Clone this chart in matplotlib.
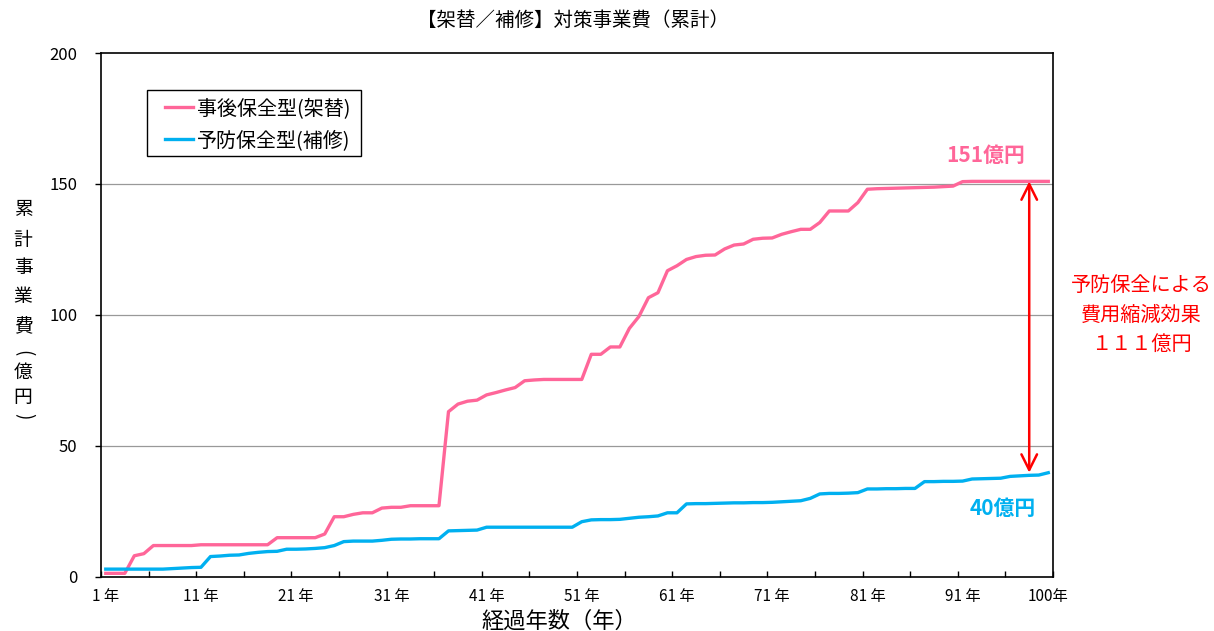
import numpy as np
import matplotlib
matplotlib.use("Agg")
import matplotlib.pyplot as plt
from matplotlib.patches import Rectangle

plt.rcParams['font.family'] = ['Noto Sans CJK JP', 'DejaVu Sans']

# data (億円, 累計)
years = np.arange(1, 101)
jigo = [1.4, 1.4, 1.4, 8.1, 8.9, 12.0, 12.0, 12.0, 12.0, 12.0,
        12.3, 12.3, 12.3, 12.3, 12.3, 12.3, 12.3, 12.3, 15.0, 15.0,
        15.0, 15.0, 15.0, 16.4, 23.0, 23.0, 23.9, 24.5, 24.5, 26.3,
        26.6, 26.6, 27.2, 27.2, 27.2, 27.2, 63.1, 66.0, 67.1, 67.5,
        69.5, 70.4, 71.4, 72.3, 74.9, 75.2, 75.4, 75.4, 75.4, 75.4,
        75.4, 85.0, 85.0, 87.8, 87.8, 94.9, 99.4, 106.6, 108.5, 116.9,
        118.8, 121.2, 122.3, 122.8, 122.9, 125.2, 126.7, 127.1, 128.9, 129.3,
        129.4, 130.8, 131.8, 132.7, 132.7, 135.3, 139.7, 139.7, 139.7, 142.9,
        148.0, 148.2, 148.3, 148.4, 148.5, 148.6, 148.7, 148.8, 149.0, 149.2,
        150.9, 151.0, 151.0, 151.0, 151.0, 151.0, 151.0, 151.0, 151.0, 151.0]
yobou = [3.0, 3.0, 3.0, 3.0, 3.0, 3.0, 3.0, 3.2, 3.4, 3.6,
         3.7, 7.8, 8.0, 8.3, 8.4, 9.0, 9.4, 9.7, 9.8, 10.6,
         10.6, 10.7, 10.9, 11.2, 12.0, 13.5, 13.7, 13.7, 13.7, 14.0,
         14.4, 14.5, 14.5, 14.6, 14.6, 14.6, 17.6, 17.7, 17.8, 17.9,
         19.0, 19.0, 19.0, 19.0, 19.0, 19.0, 19.0, 19.0, 19.0, 19.0,
         21.1, 21.8, 21.9, 21.9, 22.0, 22.4, 22.8, 23.0, 23.3, 24.5,
         24.5, 27.9, 28.0, 28.0, 28.1, 28.2, 28.3, 28.3, 28.4, 28.4,
         28.5, 28.7, 28.9, 29.1, 30.0, 31.7, 31.9, 31.9, 32.0, 32.2,
         33.6, 33.6, 33.7, 33.7, 33.8, 33.8, 36.4, 36.4, 36.5, 36.5,
         36.6, 37.4, 37.5, 37.6, 37.7, 38.4, 38.6, 38.8, 38.9, 39.8]
label_years = [1, 11, 21, 31, 41, 51, 61, 71, 81, 91, 100]
tick_labels = ['1 年', '11 年', '21 年', '31 年', '41 年', '51 年',
               '61 年', '71 年', '81 年', '91 年', '100年']

pink = '#FF6699'
blue = '#00B0F0'

fig = plt.figure(figsize=(12.14, 6.31), dpi=100)
ax = fig.add_axes([0.0832, 0.0856, 0.7842, 0.8304])

ax.plot(years, jigo, color=pink, lw=2.4, label='事後保全型(架替)', zorder=3)
ax.plot(years, yobou, color=blue, lw=2.4, label='予防保全型(補修)', zorder=3)

ax.set_xlim(0.5, 100.5)
ax.set_ylim(0, 200)
ax.set_yticks([0, 50, 100, 150, 200])
ax.set_yticklabels(['0', '50', '100', '150', '200'], fontsize=12)
for v in [50, 100, 150]:
    ax.axhline(v, color='#999999', lw=0.9, zorder=1)

# x ticks: marks between categories, labels on categories
ax.set_xticks(np.arange(0.5, 101, 5))
ax.set_xticklabels([])
ax.set_xticks(label_years, minor=True)
ax.set_xticklabels(tick_labels, minor=True, fontsize=11)
ax.tick_params(axis='x', which='major', direction='in', length=4, width=1)
ax.tick_params(axis='x', which='minor', length=0, pad=8)
ax.tick_params(axis='y', direction='out', length=4, width=1, pad=13)
for s in ax.spines.values():
    s.set_linewidth(1.2)
    s.set_color('black')

fig.text(559 / 1214, 1 - 621 / 631, '経過年数（年）', ha='center', va='center', fontsize=16)
fig.text(573 / 1214, 1 - 20 / 631, '【架替／補修】対策事業費（累計）', ha='center', va='center', fontsize=14)

# vertical y label
ylab = ['累', '計', '事', '業', '費', '(', '億', '円', ')']
ylab_y = [210, 240, 268, 297, 327, 353, 372, 398, 416]
for ch, yy in zip(ylab, ylab_y):
    rot = -90 if ch in '()' else 0
    fig.text(0.019, 1 - yy / 631, ch, ha='center', va='center', fontsize=13.5,
             rotation=rot)

# legend with a wider box than matplotlib's uniform padding gives
leg = ax.legend(loc='upper left', bbox_to_anchor=(0.0585, 0.929), fontsize=14.4,
                frameon=False, handlelength=1.4, handletextpad=0.2,
                labelspacing=0.55, borderpad=0.4, borderaxespad=0)
ax.add_patch(Rectangle((0.0483, 0.8034), 0.2248, 0.126, transform=ax.transAxes,
                       facecolor='white', edgecolor='black', lw=1.0, zorder=5))
leg.set_zorder(6)

# difference arrow
ax.annotate('', xy=(98, jigo[-1]), xytext=(98, yobou[-1]),
            arrowprops=dict(arrowstyle='<->', color='red', lw=1.8,
                            mutation_scale=28, shrinkA=0, shrinkB=0), zorder=4)
ax.text(93.4, 161, '151億円', color=pink, fontsize=15, fontweight='bold',
        ha='center', va='center')
ax.text(95.2, 26.3, '40億円', color=blue, fontsize=15, fontweight='bold',
        ha='center', va='center')
fig.text(1141 / 1214, 1 - 315 / 631, '予防保全による\n費用縮減効果\n１１１億円', color='red',
         fontsize=14.5, ha='center', va='center', linespacing=1.52)

fig.savefig('out.png', dpi=100)
